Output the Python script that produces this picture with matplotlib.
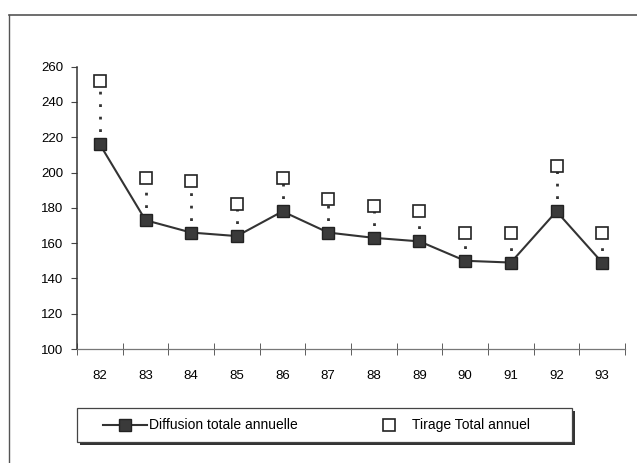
import matplotlib.pyplot as plt
from matplotlib.patches import Rectangle
from matplotlib.lines import Line2D

plt.rcParams['font.family'] = ['Liberation Sans', 'DejaVu Sans']

years = ["82", "83", "84", "85", "86", "87", "88", "89", "90", "91", "92", "93"]
diffusion = [216, 173, 166, 164, 178, 166, 163, 161, 150, 149, 178, 149]
tirage = [252, 197, 195, 182, 197, 185, 181, 178, 166, 166, 204, 166]

fig = plt.figure(figsize=(6.37, 4.63), dpi=100)
W, H = 637, 463

# outer frame (top and left edges visible)
fig.add_artist(Line2D([9 / W, 1.0], [1 - 15 / H, 1 - 15 / H], color="#555555", lw=1.2))
fig.add_artist(Line2D([9 / W, 9 / W], [0, 1 - 15 / H], color="#555555", lw=1.0))

ax = fig.add_axes([77 / W, 1 - 349 / H, (625 - 77) / W, (349 - 66.7) / H])
x = list(range(len(years)))

# dotted drop lines between the two series
ax.vlines(x, diffusion, tirage, colors="#333333", linestyles=(0, (1, 3.5)), lw=2.0, zorder=1)
ax.plot(x, diffusion, color="#333333", lw=1.5, marker="s", ms=8.5,
        mfc="#3a3a3a", mec="#222222", zorder=3)
ax.plot(x, tirage, ls="none", marker="s", ms=8, mfc="white",
        mec="#222222", mew=1.2, zorder=3)

ax.set_xlim(-0.5, len(years) - 0.5)
ax.set_ylim(100, 260)
ax.set_yticks(range(100, 261, 20))
ax.set_xticks(x)
ax.set_xticklabels(years)
ax.set_xticks([i + 0.5 for i in range(-1, len(years))], minor=True)
ax.tick_params(axis="x", which="major", length=0, pad=15, labelsize=9.5)
ax.tick_params(axis="x", which="minor", length=8, direction="inout", color="#444444")
ax.tick_params(axis="y", length=4, direction="out", labelsize=9.5, pad=6, color="#444444")

for s in ["top", "right"]:
    ax.spines[s].set_visible(False)
ax.spines["left"].set_color("#333333")
ax.spines["bottom"].set_color("#777777")
ax.spines["left"].set_linewidth(1.1)
ax.spines["bottom"].set_linewidth(0.9)

# legend box with shadow
lx0, lx1, ly0, ly1 = 77, 572, 408, 442
fig.add_artist(Rectangle((lx0 / W + 3 / W, 1 - (ly1 + 3) / H), (lx1 - lx0) / W, (ly1 - ly0) / H,
                         transform=fig.transFigure, facecolor="#333333", edgecolor="none"))
fig.add_artist(Rectangle((lx0 / W, 1 - ly1 / H), (lx1 - lx0) / W, (ly1 - ly0) / H,
                         transform=fig.transFigure, facecolor="white", edgecolor="#444444", lw=0.9))
ly = 1 - 425 / H
fig.add_artist(Line2D([103 / W, 147 / W], [ly, ly], color="#333333", lw=1.5,
                      transform=fig.transFigure))
fig.add_artist(Line2D([125 / W], [ly], marker="s", ms=8.5, mfc="#3a3a3a", mec="#222222",
                      transform=fig.transFigure))
fig.text(149 / W, ly, "Diffusion totale annuelle", fontsize=10, va="center", ha="left")
fig.add_artist(Line2D([389 / W], [ly], marker="s", ms=8, mfc="white", mec="#222222",
                      mew=1.2, transform=fig.transFigure))
fig.text(412 / W, ly, "Tirage Total annuel", fontsize=10, va="center", ha="left")

fig.savefig("out.png", dpi=100)
